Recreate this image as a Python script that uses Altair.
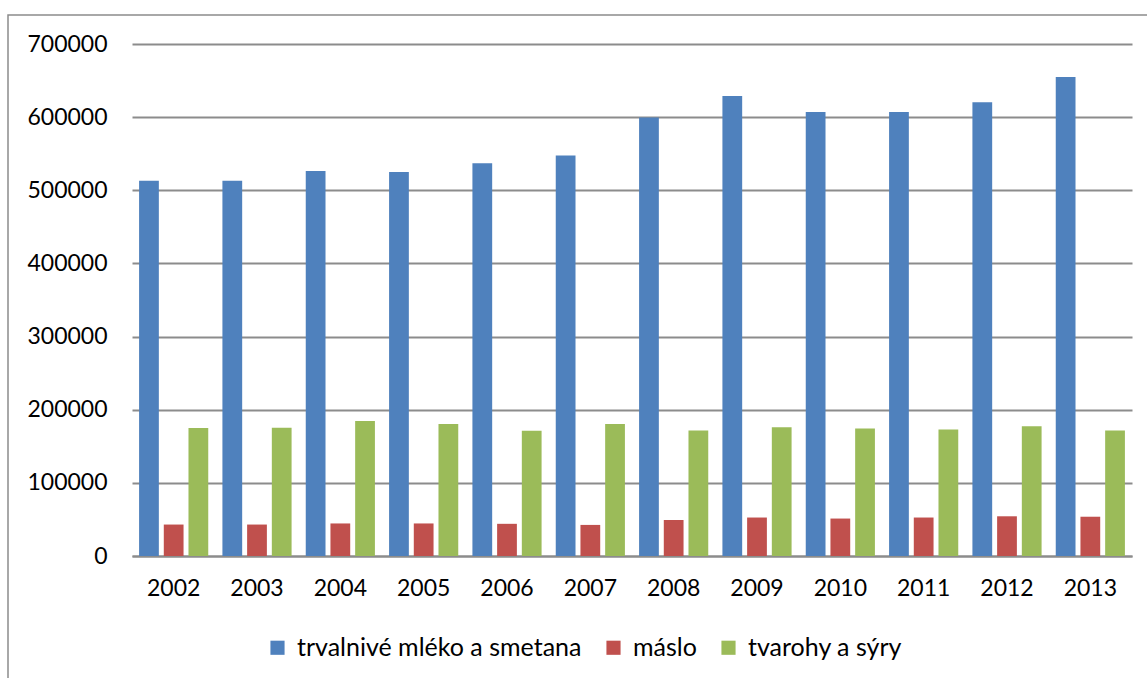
import altair as alt
import pandas as pd

years = ["2002", "2003", "2004", "2005", "2006", "2007",
         "2008", "2009", "2010", "2011", "2012", "2013"]
series = ["trvalnivé mléko a smetana", "máslo", "tvarohy a sýry"]
colors = ["#4F81BD", "#C0504D", "#9BBB59"]

mleko = [513000, 513000, 526500, 525000, 537000, 547500,
         599500, 629000, 607000, 607000, 620500, 655000]
maslo = [43000, 43000, 44500, 44500, 44000, 42500,
         49200, 52600, 51200, 52600, 54300, 53700]
syry = [175000, 175300, 184500, 180400, 171300, 180400,
        171700, 176000, 174400, 173000, 177400, 171700]

y_ticks = [0, 100000, 200000, 300000, 400000, 500000, 600000, 700000]

rows = []
for name, values in zip(series, [mleko, maslo, syry]):
    for year, v in zip(years, values):
        rows.append({"rok": year, "rada": name, "hodnota": v})
df = pd.DataFrame(rows)

FONT = "Lato"
FS = 23

bars = alt.Chart(df).mark_bar().encode(
    x=alt.X("rok:N", sort=years, title=None,
            scale=alt.Scale(paddingInner=0.17, paddingOuter=0.085),
            axis=alt.Axis(labelAngle=0, ticks=False, domain=True,
                          domainColor="#8c8c8c", domainWidth=2,
                          labelPadding=21, labelFontSize=FS,
                          labelFont=FONT, labelColor="#000000")),
    xOffset=alt.XOffset("rada:N", sort=series,
                        scale=alt.Scale(paddingInner=0.2, paddingOuter=0)),
    y=alt.Y("hodnota:Q", title=None,
            scale=alt.Scale(domain=[0, 700000], nice=False),
            axis=alt.Axis(values=y_ticks, format="d", ticks=False,
                          domain=False, grid=True, gridColor="#8c8c8c",
                          gridWidth=2, labelPadding=25, labelFontSize=FS,
                          labelFont=FONT, labelColor="#000000")),
    color=alt.Color("rada:N", sort=series,
                    scale=alt.Scale(domain=series, range=colors),
                    legend=alt.Legend(title=None, orient="none",
                                      direction="horizontal",
                                      legendX=133, legendY=591,
                                      symbolType="square", symbolSize=200,
                                      symbolStrokeWidth=0, labelLimit=0,
                                      labelFontSize=25, labelFont=FONT,
                                      labelColor="#000000", labelOffset=7,
                                      columnPadding=19)),
)

# outer frame of the whole figure
frame = alt.Chart(pd.DataFrame({"f": [0]})).mark_rect(
    fill=None, stroke="#8c8c8c", strokeWidth=1.5, clip=False
).encode(
    x=alt.value(-124), x2=alt.value(1030),
    y=alt.value(-29), y2=alt.value(660),
)

chart = alt.layer(frame, bars).properties(
    width=1000, height=512,
    autosize=alt.AutoSizeParams(type="none"),
    padding={"left": 132, "top": 44, "right": 15, "bottom": 122},
    background="#ffffff",
).configure_view(stroke=None)

chart.save("out.html", embed_options={"renderer": "svg", "actions": False})
